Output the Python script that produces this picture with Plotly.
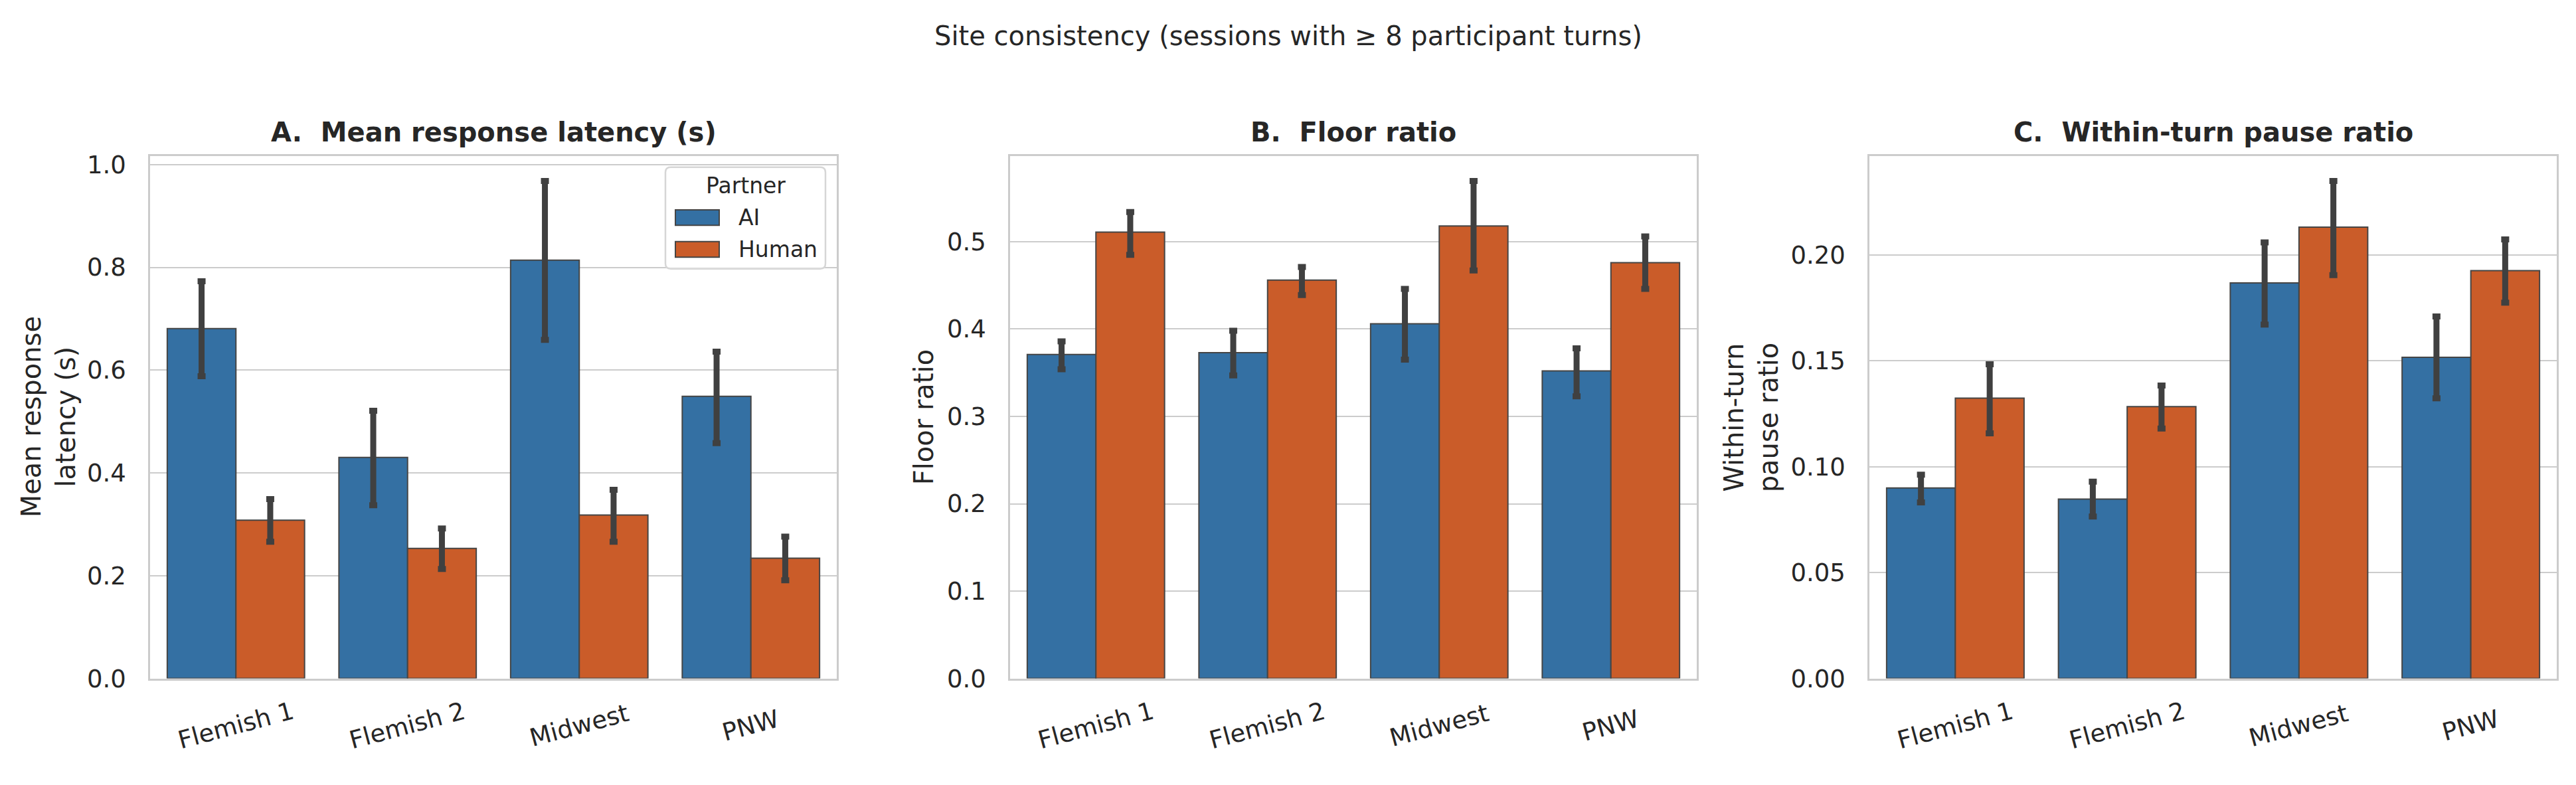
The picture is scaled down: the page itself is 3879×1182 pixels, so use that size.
import plotly.graph_objects as go

# ---------------- data ----------------
sites = ["Flemish 1", "Flemish 2", "Midwest", "PNW"]
partners = ["AI", "Human"]

latency_ai = [0.681, 0.430, 0.814, 0.549]
latency_ai_lo = [0.588, 0.337, 0.659, 0.458]
latency_ai_hi = [0.773, 0.521, 0.968, 0.636]
latency_hu = [0.308, 0.253, 0.318, 0.234]
latency_hu_lo = [0.266, 0.213, 0.266, 0.191]
latency_hu_hi = [0.349, 0.292, 0.367, 0.276]

floor_ai = [0.371, 0.373, 0.406, 0.352]
floor_ai_lo = [0.354, 0.347, 0.365, 0.323]
floor_ai_hi = [0.386, 0.398, 0.446, 0.378]
floor_hu = [0.511, 0.456, 0.518, 0.476]
floor_hu_lo = [0.485, 0.439, 0.467, 0.446]
floor_hu_hi = [0.534, 0.471, 0.5695, 0.506]

pause_ai = [0.0899, 0.0847, 0.1867, 0.1516]
pause_ai_lo = [0.0831, 0.0764, 0.1670, 0.1322]
pause_ai_hi = [0.0962, 0.0929, 0.2058, 0.1709]
pause_hu = [0.1323, 0.1283, 0.2130, 0.1925]
pause_hu_lo = [0.1157, 0.1180, 0.1904, 0.1774]
pause_hu_hi = [0.1483, 0.1383, 0.2348, 0.2072]

panel_titles = ["A.  Mean response latency (s)", "B.  Floor ratio", "C.  Within-turn pause ratio"]
y_titles = ["Mean response<br>latency (s)", "Floor ratio", "Within-turn<br>pause ratio"]
y_ticks = [[0.0, 0.2, 0.4, 0.6, 0.8, 1.0],
           [0.0, 0.1, 0.2, 0.3, 0.4, 0.5],
           [0.00, 0.05, 0.10, 0.15, 0.20]]
y_fmt = [".1f", ".1f", ".2f"]
legend_title = "Partner"
suptitle = "Site consistency (sessions with \u2265 8 participant turns)"

# ---------------- style ----------------
FONT = "DejaVu Sans"
TXT = "#262626"
COLORS = {"AI": "#3470a3", "Human": "#ca5c29"}
EDGE = "#454545"
ERRC = "#404040"
GRID = "#cccccc"

W, H = 3879, 1182
x_domains = [[226 / W, 1260 / W], [1521 / W, 2555 / W], [2815 / W, 3850 / W]]
y_domain = [1 - 1040 / H, 1 - 233 / H]
ytitle_x = [73 / W, 1391 / W, 2637 / W]


def px(x):
    return x / W


def py(y):
    return 1 - y / H


panels = [
    ((latency_ai, latency_ai_lo, latency_ai_hi), (latency_hu, latency_hu_lo, latency_hu_hi)),
    ((floor_ai, floor_ai_lo, floor_ai_hi), (floor_hu, floor_hu_lo, floor_hu_hi)),
    ((pause_ai, pause_ai_lo, pause_ai_hi), (pause_hu, pause_hu_lo, pause_hu_hi)),
]

fig = go.Figure()
annotations = []
shapes = []
layout = {}

for i, series in enumerate(panels):
    xa = "x" if i == 0 else f"x{i + 1}"
    ya = "y" if i == 0 else f"y{i + 1}"
    top = 0
    for partner, (vals, lo, hi) in zip(partners, series):
        top = max(top, max(hi))
        fig.add_trace(go.Bar(
            x=sites, y=vals, name=partner,
            marker=dict(color=COLORS[partner], line=dict(color=EDGE, width=2)),
            error_y=dict(type="data", symmetric=False,
                         array=[h - v for h, v in zip(hi, vals)],
                         arrayminus=[v - l for v, l in zip(vals, lo)],
                         color=ERRC, thickness=9, width=6),
            xaxis=xa, yaxis=ya, offsetgroup=partner,
            showlegend=False, legendgroup=partner,
        ))
    key = "" if i == 0 else str(i + 1)
    layout[f"xaxis{key}"] = dict(
        domain=x_domains[i], anchor=ya, type="category",
        categoryorder="array", categoryarray=sites,
        showticklabels=False, ticks="", showgrid=False,
        showline=True, mirror=True, linecolor=GRID, linewidth=2.5,
        zeroline=False, range=[-0.5, len(sites) - 0.5],
    )
    layout[f"yaxis{key}"] = dict(
        domain=y_domain, anchor=xa, range=[0, top * 1.05],
        tickvals=y_ticks[i], tickformat=y_fmt[i],
        tickfont=dict(family=FONT, size=37, color=TXT),
        ticks="", ticklabelstandoff=26,
        showgrid=True, gridcolor=GRID, gridwidth=2.3,
        showline=True, mirror=True, linecolor=GRID, linewidth=2.5,
        zeroline=False,
    )
    annotations.append(dict(
        text=f"<b>{panel_titles[i]}</b>", xref="paper", yref="paper",
        x=(x_domains[i][0] + x_domains[i][1]) / 2, y=py(196),
        xanchor="center", yanchor="middle", showarrow=False,
        font=dict(family=FONT, size=40, color=TXT)))
    annotations.append(dict(
        text=y_titles[i], xref="paper", yref="paper",
        x=ytitle_x[i], y=(y_domain[0] + y_domain[1]) / 2,
        xanchor="center", yanchor="middle", textangle=-90, showarrow=False,
        font=dict(family=FONT, size=40, color=TXT)))
    for s in sites:
        annotations.append(dict(
            text=s, xref=xa, yref="paper", x=s, y=py(1113),
            xanchor="center", yanchor="middle", textangle=-15, showarrow=False,
            font=dict(family=FONT, size=37, color=TXT)))

annotations.append(dict(
    text=suptitle, xref="paper", yref="paper", x=0.5, y=py(47),
    xanchor="center", yanchor="middle", showarrow=False,
    font=dict(family=FONT, size=40, color=TXT)))

# ---------- legend (panel A, upper right), drawn as a matplotlib-style box ----------
box_l, box_t, box_r, box_b, rad = 1002, 250, 1243, 407, 8
shapes.append(dict(
    type="path", xref="paper", yref="paper",
    path=(f"M {px(box_l + rad)},{py(box_t)} L {px(box_r - rad)},{py(box_t)} "
          f"Q {px(box_r)},{py(box_t)} {px(box_r)},{py(box_t + rad)} "
          f"L {px(box_r)},{py(box_b - rad)} Q {px(box_r)},{py(box_b)} {px(box_r - rad)},{py(box_b)} "
          f"L {px(box_l + rad)},{py(box_b)} Q {px(box_l)},{py(box_b)} {px(box_l)},{py(box_b - rad)} "
          f"L {px(box_l)},{py(box_t + rad)} Q {px(box_l)},{py(box_t)} {px(box_l + rad)},{py(box_t)} Z"),
    fillcolor="rgba(255,255,255,0.8)", line=dict(color="#d6d6d6", width=2.5), layer="above"))
annotations.append(dict(
    text=legend_title, xref="paper", yref="paper", x=px(1123), y=py(279),
    xanchor="center", yanchor="middle", showarrow=False,
    font=dict(family=FONT, size=33, color=TXT)))
for k, partner in enumerate(partners):
    cy = 328 + 49 * k
    shapes.append(dict(
        type="rect", xref="paper", yref="paper",
        x0=px(1017), x1=px(1083), y0=py(cy - 12), y1=py(cy + 12),
        fillcolor=COLORS[partner], line=dict(color=EDGE, width=2), layer="above"))
    annotations.append(dict(
        text=partner, xref="paper", yref="paper", x=px(1110), y=py(cy),
        xanchor="left", yanchor="middle", showarrow=False,
        font=dict(family=FONT, size=33, color=TXT)))

fig.update_layout(
    width=W, height=H,
    margin=dict(l=0, r=0, t=0, b=0),
    paper_bgcolor="white", plot_bgcolor="white",
    font=dict(family=FONT, color=TXT),
    barmode="group", bargap=0.2, bargroupgap=0,
    annotations=annotations, shapes=shapes,
    showlegend=False,
    **layout,
)

fig.write_html("out.html")
